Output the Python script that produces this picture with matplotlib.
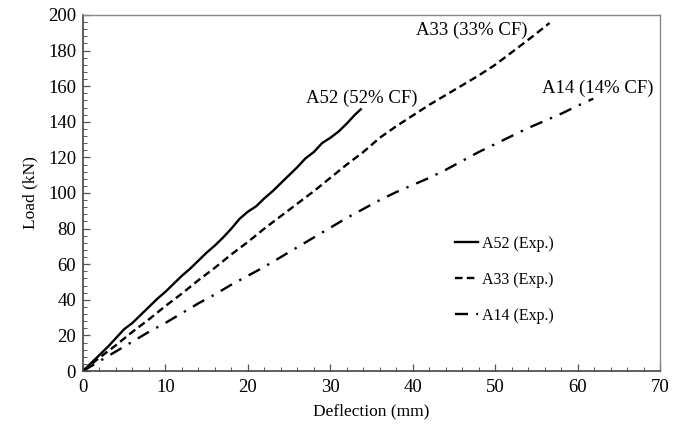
import numpy as np
import matplotlib.pyplot as plt
from matplotlib.ticker import MultipleLocator

plt.rcParams['font.family'] = ['Liberation Serif', 'DejaVu Serif']

# Load-deflection readings (mm, kN)
a52_defl = [0, 1, 2, 3, 4, 5, 6, 7, 8, 9, 10, 11, 12, 13, 14, 15, 16, 17, 18, 19, 20,
            21, 22, 23, 24, 25, 26, 27, 28, 29, 30, 31, 32, 33, 33.7]
a52_load = [0, 4.5, 9, 13.5, 18.5, 23.5, 27, 31.5, 36, 40.5, 44.5, 49, 53.5, 57.5, 62, 66.5,
            70.5, 75, 80, 85.5, 89.5, 92.5, 97, 101, 105.5, 110, 114.5, 119.5, 123, 128,
            131, 134.5, 139, 144, 147]

a33_defl = [0, 2, 4, 6, 8, 10, 12, 14, 16, 18, 20, 22, 24, 26, 28, 30, 32, 34, 36, 38,
            40, 42, 44, 46, 48, 50, 52, 54, 56.6]
a33_load = [0, 7.5, 14.5, 22, 29, 36.5, 43.5, 51, 58, 65.5, 72.5, 80, 87, 94, 101, 108.5,
            116, 123, 131, 137.5, 143.5, 149.5, 155, 160.5, 166, 172, 179, 186, 195.5]

a14_defl = [0, 2, 4, 6, 8, 10, 12, 14, 16, 18, 20, 22, 24, 26, 28, 30, 32, 34, 36, 38,
            40, 42, 44, 46, 48, 50, 52, 54, 56, 58, 60, 61.9]
a14_load = [0, 5.5, 11, 16.5, 22, 27, 32.5, 38, 43, 48.5, 53.5, 58.5, 64, 69.5, 75, 80.5,
            86, 91, 96, 100.5, 104.5, 108.5, 113, 118, 123, 127.5, 132, 136.5, 140.5,
            144.5, 149, 153]

fig = plt.figure(figsize=(6.73, 4.32), dpi=100)
ax = fig.add_axes([0.1233, 0.1412, 0.8574, 0.8241])

ax.plot(a52_defl, a52_load, color='black', lw=1.7, label='A52 (Exp.)')
ax.plot(a33_defl, a33_load, color='black', lw=1.7, dashes=(3.2, 1.8), label='A33 (Exp.)')
ax.plot(a14_defl, a14_load, color='black', lw=1.7, dashes=(5.5, 3.5, 1, 3.5), label='A14 (Exp.)')

ax.text(33.8, 148.5, 'A52 (52% CF)', fontsize=13.5, ha='center', va='bottom')
ax.text(47.2, 186.5, 'A33 (33% CF)', fontsize=13.5, ha='center', va='bottom')
ax.text(62.5, 154, 'A14 (14% CF)', fontsize=13.5, ha='center', va='bottom')

ax.set_xlim(0, 70)
ax.set_ylim(0, 200)
ax.xaxis.set_major_locator(MultipleLocator(10))
ax.xaxis.set_minor_locator(MultipleLocator(2))
ax.yaxis.set_major_locator(MultipleLocator(20))
ax.yaxis.set_minor_locator(MultipleLocator(4))
ax.tick_params(which='both', direction='in', labelsize=13.5, color='#555555')
ax.tick_params(which='major', length=5, width=0.9, pad=6)
ax.tick_params(which='minor', length=3, width=0.7)
ax.tick_params(axis='y', pad=5)

for side in ['left', 'bottom']:
    ax.spines[side].set_color('#444444')
    ax.spines[side].set_linewidth(1.2)
for side in ['top', 'right']:
    ax.spines[side].set_color('#888888')
    ax.spines[side].set_linewidth(1.0)

ax.set_xlabel('Deflection (mm)', fontsize=12.5, labelpad=5)
ax.set_ylabel('Load (kN)', fontsize=12.5, labelpad=7)

ax.legend(loc='lower right', bbox_to_anchor=(0.84, 0.0916), frameon=False, fontsize=11.5,
          handlelength=1.45, handletextpad=0.2, labelspacing=1.25)

fig.savefig('out.png', dpi=100)
